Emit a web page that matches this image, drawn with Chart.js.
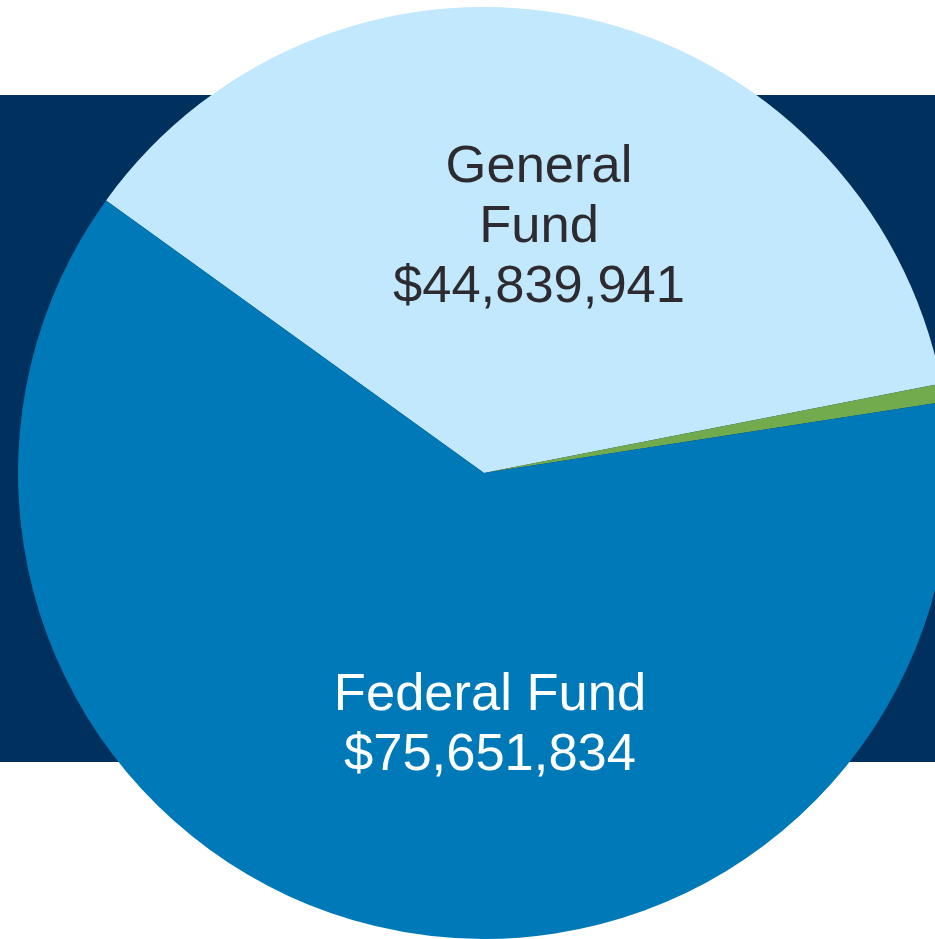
<!DOCTYPE html>
<html>
<head>
<meta charset="utf-8">
<script src="https://cdn.jsdelivr.net/npm/chart.js@4/dist/chart.umd.min.js"></script>
<style>
  html, body { margin: 0; padding: 0; background: #fff; overflow: hidden; width: 935px; height: 939px; }
  #wrap { position: absolute; left: 0; top: 0; width: 968px; height: 946px; }
</style>
</head>
<body>
<div id="wrap"><canvas id="pie"></canvas></div>
<script>
// data
const fundNames = ["General Fund", "Other Funds", "Federal Fund"];
const fundAmounts = [44839941, 770000, 75651834];
const fundColors = ["#C1E8FC", "#72AA4E", "#0079B8"];
// label lines drawn on the slices (empty = no label)
const fundLabelLines = [["General", "Fund", "$44,839,941"], [], ["Federal Fund", "$75,651,834"]];

// ---- plugins ----
const bandPlugin = {
  id: "band",
  beforeDraw(chart) {
    const ctx = chart.ctx;
    ctx.save();
    ctx.fillStyle = "#00305E";
    ctx.fillRect(0, 95, chart.width, 667);
    ctx.restore();
  },
};

// label anchors relative to pie center (first baseline), colours per slice
const labelStyle = [
  { dx: 55, dy: -291, color: "#2E2B30" },
  null,
  { dx: 6, dy: 237, color: "#FFFFFF" },
];

const labelPlugin = {
  id: "sliceLabels",
  afterDatasetsDraw(chart) {
    const ctx = chart.ctx;
    const arc = chart.getDatasetMeta(0).data[0];
    const cx = arc.x, cy = arc.y;
    ctx.save();
    ctx.font = '52.5px "Liberation Sans", Arial, sans-serif';
    ctx.textAlign = "center";
    ctx.textBaseline = "alphabetic";
    fundLabelLines.forEach((lines, i) => {
      const st = labelStyle[i];
      if (!st || !lines.length) return;
      ctx.fillStyle = st.color;
      lines.forEach((txt, j) => {
        ctx.fillText(txt, cx + st.dx, cy + st.dy + j * 60);
      });
    });
    ctx.restore();
  },
};

new Chart(document.getElementById("pie"), {
  type: "pie",
  data: {
    labels: fundNames,
    datasets: [{
      data: fundAmounts,
      backgroundColor: fundColors,
      borderWidth: 0,
    }],
  },
  options: {
    responsive: true,
    maintainAspectRatio: false,
    animation: false,
    rotation: 305.8,
    layout: { padding: { left: 18, right: 18, top: 7, bottom: 7 } },
    plugins: {
      legend: { display: false },
      tooltip: { enabled: false },
    },
  },
  plugins: [bandPlugin, labelPlugin],
});
</script>
</body>
</html>
